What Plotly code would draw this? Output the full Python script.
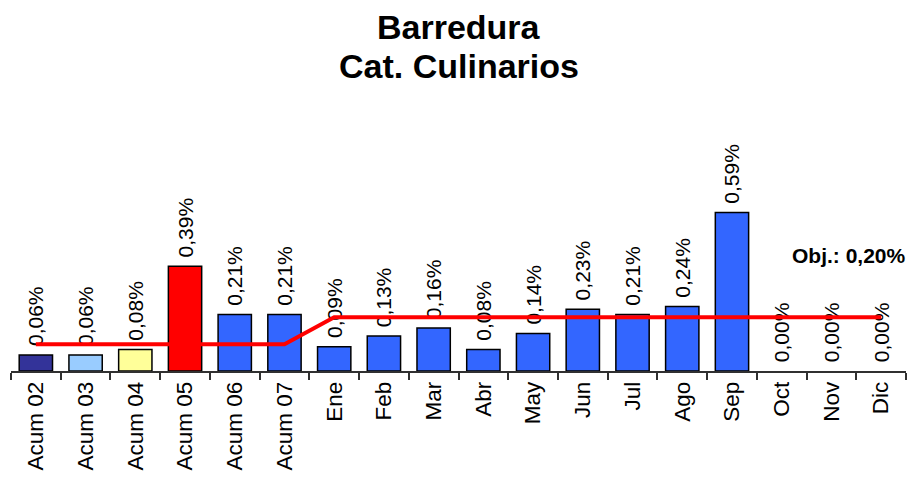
import plotly.graph_objects as go

categories = ["Acum 02", "Acum 03", "Acum 04", "Acum 05", "Acum 06", "Acum 07",
              "Ene", "Feb", "Mar", "Abr", "May", "Jun", "Jul", "Ago", "Sep",
              "Oct", "Nov", "Dic"]
values = [0.06, 0.06, 0.08, 0.39, 0.21, 0.21,
          0.09, 0.13, 0.16, 0.08, 0.14, 0.23, 0.21, 0.24, 0.59,
          0.00, 0.00, 0.00]
objective = [0.10, 0.10, 0.10, 0.10, 0.10, 0.10,
             0.20, 0.20, 0.20, 0.20, 0.20, 0.20, 0.20, 0.20, 0.20,
             0.20, 0.20, 0.20]
title_lines = ["Barredura", "Cat. Culinarios"]
obj_label = "Obj.: 0,20%"

special_colors = {"Acum 02": "#333399", "Acum 03": "#99CCFF",
                  "Acum 04": "#FFFF99", "Acum 05": "#FF0000"}
bar_colors = [special_colors.get(c, "#3366FF") for c in categories]
bar_line_widths = [1.5 if v > 0 else 0 for v in values]

FONT = "Arial, Liberation Sans, sans-serif"

fig = go.Figure()
fig.add_trace(go.Bar(
    x=categories, y=values,
    marker=dict(color=bar_colors, line=dict(color="black", width=bar_line_widths)),
    texttemplate="\u00a0%{y:.2f}%", textposition="outside", textangle=-90,
    constraintext="none", cliponaxis=False,
    textfont=dict(family=FONT, size=21, color="black"),
    hoverinfo="skip",
))
fig.add_trace(go.Scatter(
    x=categories, y=objective, mode="lines",
    line=dict(color="#FF0000", width=4), cliponaxis=False, hoverinfo="skip",
))

# page body has an 8px margin; compensate so the plot lands where intended
OFF = 8
W, H = 918, 479
L, R, T, B = 11 - OFF, W - 906 + OFF, 183 - OFF, H - 371 + OFF
plot_h = H - T - B
plot_w = W - L - R

def ypaper(py_screen):
    return ((H - B) - (py_screen - OFF)) / plot_h

def xpaper(px_screen):
    return ((px_screen - OFF) - L) / plot_w

fig.add_annotation(text="<b>%s</b>" % title_lines[0], xref="paper", yref="paper",
                   x=xpaper(459), y=ypaper(6), yanchor="top", xanchor="center",
                   showarrow=False, font=dict(family=FONT, size=34, color="black"))
fig.add_annotation(text="<b>%s</b>" % title_lines[1], xref="paper", yref="paper",
                   x=xpaper(459), y=ypaper(66), yanchor="middle", xanchor="center",
                   showarrow=False, font=dict(family=FONT, size=34, color="black"))
fig.add_annotation(text="<b>%s</b>" % obj_label, xref="paper", yref="paper",
                   x=xpaper(849), y=ypaper(255), yanchor="middle", xanchor="center",
                   showarrow=False, font=dict(family=FONT, size=21, color="black"))

fig.update_layout(
    width=W, height=H,
    margin=dict(l=L, r=R, t=T, b=B, pad=0),
    paper_bgcolor="white", plot_bgcolor="white",
    showlegend=False, bargap=0.33, separators=",.",
    font=dict(family=FONT, color="black"),
)
fig.update_xaxes(
    type="category", tickangle=-90, tickfont=dict(family=FONT, size=22.5, color="black"),
    showline=True, linecolor="#303030", linewidth=1.5,
    ticks="outside", tickson="boundaries", ticklen=7, tickcolor="#303030", tickwidth=1.5,
    showgrid=False, zeroline=False, automargin=False,
)
fig.update_yaxes(range=[0, 0.7], visible=False, showgrid=False, zeroline=False)

fig.write_html("out.html")
